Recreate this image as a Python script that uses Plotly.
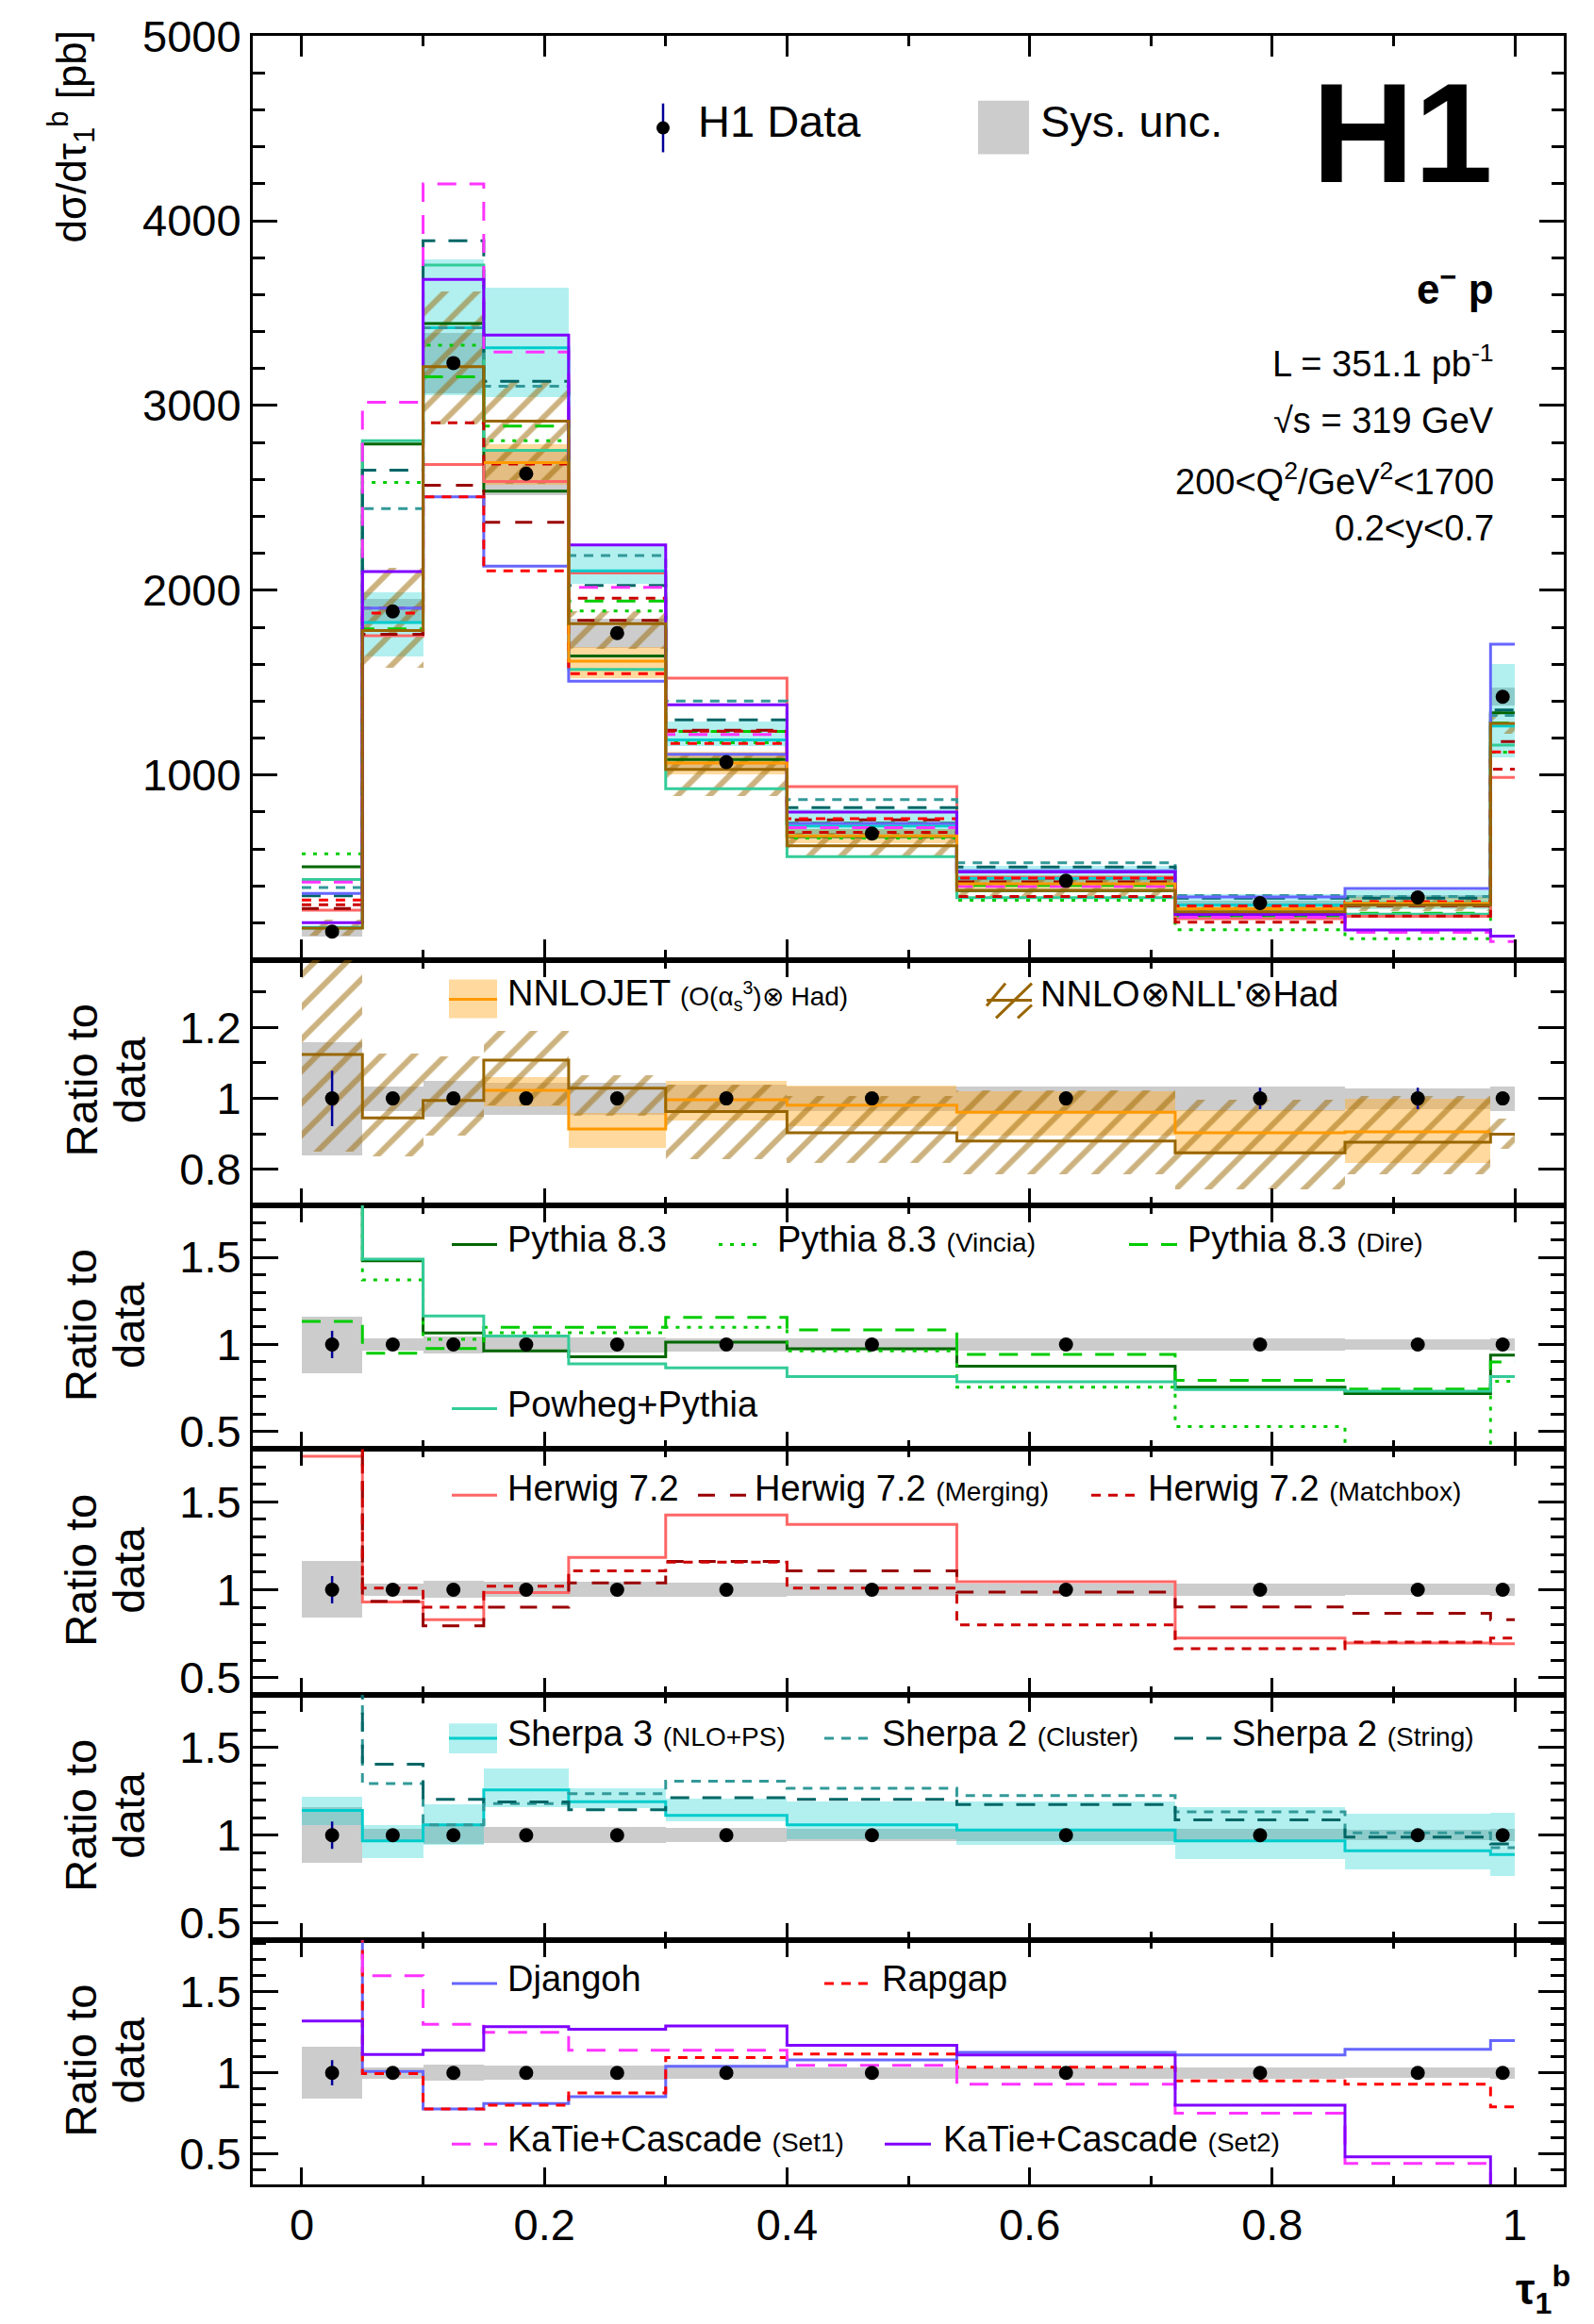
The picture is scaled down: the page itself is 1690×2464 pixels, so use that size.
import plotly.graph_objects as go
from plotly.subplots import make_subplots

# ---------------- data: H1 1-jettiness tau_1^b ----------------
edges = [0.0, 0.05, 0.10, 0.15, 0.22, 0.30, 0.40, 0.54, 0.72, 0.86, 0.98, 1.0]
xsec = [153, 1886, 3230, 2631, 1768, 1070, 684, 428, 307, 338, 1424]          # pb
stat_rel = [0.078, 0.012, 0.008, 0.008, 0.01, 0.01, 0.012, 0.02, 0.03, 0.03, 0.015]
sys_rel = [0.16, 0.035, 0.05, 0.045, 0.045, 0.04, 0.035, 0.035, 0.035, 0.03, 0.035]

# predictions, as ratio to data
nnlojet = [None, None, None, 1.023, 0.914, 0.996, 0.981, 0.961, 0.903, 0.906, None]
nnlojet_lo = [None, None, None, 0.978, 0.862, 0.938, 0.924, 0.897, 0.842, 0.820, None]
nnlojet_hi = [None, None, None, 1.060, 0.959, 1.051, 1.036, 1.022, 0.967, 1.000, None]
nnll = [1.124, 0.945, 0.994, 1.108, 1.029, 0.963, 0.903, 0.880, 0.847, 0.877, 0.899]
nnll_lo = [0.85, 0.838, 0.897, 0.98, 0.952, 0.83, 0.818, 0.787, 0.745, 0.787, 0.858]
nnll_hi = [1.43, 1.126, 1.12, 1.19, 1.066, 1.04, 1.007, 1.023, 0.998, 1.007, 0.945]

pythia = [3.29, 1.48, 1.066, 0.964, 0.93, 1.014, 0.975, 0.875, 0.755, 0.718, 0.939]
vincia = [3.75, 1.37, 1.03, 1.068, 1.068, 1.098, 0.964, 0.755, 0.53, 0.34, 0.789]
dire = [1.132, 0.95, 0.977, 1.098, 1.098, 1.155, 1.084, 0.943, 0.795, 0.745, 0.9]
powheg = [2.84, 1.49, 1.164, 1.048, 0.889, 0.866, 0.816, 0.786, 0.741, 0.732, 0.816]

herwig = [1.759, 0.93, 0.83, 0.984, 1.184, 1.425, 1.371, 1.046, 0.725, 0.696, 0.693]
herwig_merging = [1.82, 0.934, 0.795, 0.9, 1.039, 1.161, 1.107, 0.986, 0.902, 0.866, 0.83]
herwig_matchbox = [1.95, 1.009, 0.9, 1.02, 1.107, 1.157, 1.009, 0.8, 0.664, 0.702, 0.725]

sherpa3 = [1.141, 0.968, 1.059, 1.259, 1.191, 1.113, 1.059, 1.03, 0.968, 0.911, 0.889]
sherpa3_lo = [1.057, 0.87, 0.946, 1.157, 1.152, 1.08, 0.975, 0.946, 0.862, 0.804, 0.768]
sherpa3_hi = [1.22, 1.054, 1.173, 1.382, 1.268, 1.205, 1.193, 1.193, 1.157, 1.12, 1.125]
sherpa2_cluster = [2.56, 1.295, 1.059, 1.18, 1.2375, 1.309, 1.268, 1.227, 1.134, 1.014, 0.929]
sherpa2_string = [2.27, 1.405, 1.205, 1.19, 1.146, 1.214, 1.205, 1.175, 1.0875, 0.989, 0.95]

djangoh = [2.35, 1.009, 0.776, 0.81, 0.853, 1.04, 1.08, 1.127, 1.11, 1.145, 1.2]
rapgap = [2.12, 0.995, 0.776, 0.80, 0.876, 1.095, 1.117, 1.035, 0.95, 0.93, 0.79]
katie_set1 = [2.75, 1.60, 1.30, 1.25, 1.14, 1.14, 1.047, 0.93, 0.75, 0.44, 0.07]
katie_set2 = [1.32, 1.114, 1.14, 1.285, 1.27, 1.29, 1.17, 1.11, 0.80, 0.48, 0.09]

# ---------------- page geometry ----------------
W, H = 1690, 2464
ML, MR, MT, MB = 268, 32, 28, 148
PW, PH = W - ML - MR, H - MT - MB
FONT = "Liberation Sans, Arial, Helvetica, sans-serif"
TXT_DY = -5   # lift annotation boxes so the glyphs sit on the intended line


def px(xp):
    return (xp - ML) / PW


def py(yp):
    return (H - MB - yp) / PH


n = len(xsec)
centers = [(a + b) / 2 for a, b in zip(edges[:-1], edges[1:])]
widths = [b - a for a, b in zip(edges[:-1], edges[1:])]


def to_abs(ratio):
    return [None if r is None else r * d for r, d in zip(ratio, xsec)]


fig = make_subplots(rows=6, cols=1, shared_xaxes=True, vertical_spacing=0,
                    row_heights=[984, 261, 260, 262, 261, 260])


def add_step(row, vals, color, dash="solid", width=3):
    idx = [i for i, v in enumerate(vals) if v is not None]
    i0, i1 = idx[0], idx[-1]
    xs = edges[i0:i1 + 2]
    ys = list(vals[i0:i1 + 1]) + [vals[i1]]
    fig.add_trace(go.Scatter(x=xs, y=ys, mode="lines",
                             line=dict(color=color, width=width, dash=dash, shape="hv"),
                             showlegend=False, hoverinfo="skip"), row=row, col=1)


def add_band(row, lo, hi, fill, hatch=None):
    idx = [i for i in range(n) if lo[i] is not None]
    marker = dict(color=fill, line=dict(width=0))
    if hatch:
        marker = dict(color="rgba(0,0,0,0)", line=dict(width=0),
                      pattern=dict(shape="/", fgcolor=hatch, bgcolor="rgba(0,0,0,0)",
                                   size=24, solidity=0.25))
    fig.add_trace(go.Bar(x=[centers[i] for i in idx], width=[widths[i] for i in idx],
                         base=[lo[i] for i in idx], y=[hi[i] - lo[i] for i in idx],
                         marker=marker, showlegend=False, hoverinfo="skip"),
                  row=row, col=1)


GREY = "#cccccc"
C_NNLO, F_NNLO = "#ff9900", "rgba(255,170,40,0.45)"
C_NNLL = "#996600"
C_PY, C_VIN, C_DIRE, C_POW = "#006600", "#00cc00", "#00cc00", "#33cc99"
C_HW, C_MERG, C_MATCH = "#ff6666", "#990000", "#cc0000"
C_SH3, F_SH3, C_CLU, C_STR = "#00cccc", "rgba(0,204,204,0.3)", "#339999", "#006666"
C_DJ, C_RAP, C_K1, C_K2 = "#6666ff", "#ff0000", "#ff33ff", "#7f00ff"
D_DOT, D_LONG, D_SHORT, D_MERG = "4px,8px", "20px,14px", "10px,8px", "18px,16px"

models = {
    3: [(pythia, C_PY, "solid"), (vincia, C_VIN, D_DOT), (dire, C_DIRE, D_LONG),
        (powheg, C_POW, "solid")],
    4: [(herwig, C_HW, "solid"), (herwig_merging, C_MERG, D_MERG),
        (herwig_matchbox, C_MATCH, D_SHORT)],
    5: [(sherpa3, C_SH3, "solid"), (sherpa2_cluster, C_CLU, D_SHORT),
        (sherpa2_string, C_STR, D_LONG)],
    6: [(djangoh, C_DJ, "solid"), (rapgap, C_RAP, D_SHORT), (katie_set1, C_K1, D_LONG),
        (katie_set2, C_K2, "solid")],
}

# ---------------- top panel: cross section ----------------
add_band(1, [d * (1 - s) for d, s in zip(xsec, sys_rel)],
         [d * (1 + s) for d, s in zip(xsec, sys_rel)], GREY)
add_band(1, to_abs(nnlojet_lo), to_abs(nnlojet_hi), F_NNLO)
add_band(1, to_abs(sherpa3_lo), to_abs(sherpa3_hi), F_SH3)
add_band(1, to_abs(nnll_lo), to_abs(nnll_hi), None, hatch=C_NNLL)
for r in (3, 4, 5, 6):
    for vals, col, dash in models[r]:
        add_step(1, to_abs(vals), col, dash)
add_step(1, to_abs(nnlojet), C_NNLO)
add_step(1, to_abs(nnll), C_NNLL)
fig.add_trace(go.Scatter(x=centers, y=xsec, mode="markers",
                         marker=dict(color="black", size=15),
                         error_y=dict(type="data", array=[d * s for d, s in zip(xsec, stat_rel)],
                                      color="#000099", thickness=2.5, width=0),
                         showlegend=False, hoverinfo="skip"), row=1, col=1)

# ---------------- ratio panels ----------------
for r in range(2, 7):
    add_band(r, [1 - s for s in sys_rel], [1 + s for s in sys_rel], GREY)
    if r == 2:
        add_band(2, nnlojet_lo, nnlojet_hi, F_NNLO)
        add_band(2, nnll_lo, nnll_hi, None, hatch=C_NNLL)
        add_step(2, nnlojet, C_NNLO)
        add_step(2, nnll, C_NNLL)
    else:
        if r == 5:
            add_band(5, sherpa3_lo, sherpa3_hi, F_SH3)
        for vals, col, dash in models[r]:
            add_step(r, vals, col, dash)
    fig.add_trace(go.Scatter(x=centers, y=[1.0] * n, mode="markers",
                             marker=dict(color="black", size=15),
                             error_y=dict(type="data", array=stat_rel, color="#000099",
                                          thickness=2.5, width=0),
                             showlegend=False, hoverinfo="skip"), row=r, col=1)

# ---------------- axes ----------------
AX = dict(showline=True, linecolor="black", linewidth=3, mirror="allticks",
          ticks="inside", tickcolor="black", tickwidth=3, showgrid=False, zeroline=False,
          tickfont=dict(family=FONT, size=47, color="black"))
for r in range(1, 7):
    big = r == 1
    fig.update_xaxes(AX, range=[-0.0404, 1.0404], tickmode="linear", tick0=0, dtick=0.2,
                     ticklen=22 if big else 18,
                     minor=dict(ticks="inside", dtick=0.1, tick0=0, ticklen=11 if big else 9,
                                tickwidth=3, tickcolor="black", showgrid=False),
                     row=r, col=1)
fig.update_xaxes(showticklabels=True, row=6, col=1)

fig.update_yaxes(AX, range=[0, 5000.5], tickmode="linear", tick0=0, dtick=1000, ticklen=26,
                 labelalias={"0": " "},
                 minor=dict(ticks="inside", dtick=200, tick0=0, ticklen=13, tickwidth=3,
                            tickcolor="black", showgrid=False), row=1, col=1)
fig.update_yaxes(AX, range=[0.7, 1.39], tickmode="linear", tick0=0, dtick=0.2, ticklen=27,
                 minor=dict(ticks="inside", dtick=0.1, tick0=0, ticklen=14, tickwidth=3,
                            tickcolor="black", showgrid=False), row=2, col=1)
ratio_ranges = {3: [0.4, 1.8], 4: [0.4, 1.8], 5: [0.4, 1.8], 6: [0.31, 1.82]}
for r, rng in ratio_ranges.items():
    fig.update_yaxes(AX, range=rng, tickmode="linear", tick0=0, dtick=0.5, ticklen=27,
                     minor=dict(ticks="inside", dtick=0.1, tick0=0, ticklen=14, tickwidth=3,
                                tickcolor="black", showgrid=False), row=r, col=1)


# ---------------- text and legends ----------------
def text(xp, yp, s, size=38, anchor="left", angle=0, dy=TXT_DY):
    fig.add_annotation(x=px(xp), y=py(yp + dy), xref="paper", yref="paper", text=s,
                       showarrow=False, xanchor=anchor, yanchor="middle", textangle=angle,
                       font=dict(family=FONT, size=size, color="black"))


def hline(x0, x1, yp, color, dash="solid", width=3):
    fig.add_shape(type="line", xref="paper", yref="paper", x0=px(x0), x1=px(x1),
                  y0=py(yp), y1=py(yp), line=dict(color=color, width=width, dash=dash))


def box(x0, x1, y0, y1, fill):
    fig.add_shape(type="rect", xref="paper", yref="paper", x0=px(x0), x1=px(x1),
                  y0=py(y1), y1=py(y0), fillcolor=fill, line=dict(width=0))


small = "<span style='font-size:28px'>%s</span>"

# axis titles
text(76, 140, "dσ/dτ<sub>1</sub><sup>b</sup> [pb]", size=44, anchor="center", angle=-90)
for yc in (1140, 1401, 1662, 1923, 2184):
    text(86, yc, "Ratio to", size=47, anchor="center", angle=-90, dy=0)
    text(137, yc, "data", size=47, anchor="center", angle=-90, dy=0)
text(1636, 2428, "<b>τ<sub>1</sub><sup>b</sup></b>", size=46, anchor="center", dy=0)

# top panel legend and labels
fig.add_shape(type="line", xref="paper", yref="paper", x0=px(703), x1=px(703),
              y0=py(100), y1=py(152), line=dict(color="#000099", width=2.5))
fig.add_shape(type="circle", xref="paper", yref="paper", x0=px(696), x1=px(710),
              y0=py(133), y1=py(119), fillcolor="black", line=dict(width=0))
text(738, 124, "H1 Data", size=47)
box(1037, 1091, 97, 154, GREY)
text(1101, 124, "Sys. unc.", size=47)
text(1585, 136, "<b>H1</b>", size=150, anchor="right")
text(1586, 300, "<b>e<sup>−</sup> p</b>", size=44, anchor="right")
text(1586, 380, "L = 351.1 pb<sup>-1</sup>", anchor="right")
text(1586, 443, "√s = 319 GeV", anchor="right")
text(1586, 505, "200&lt;Q<sup>2</sup>/GeV<sup>2</sup>&lt;1700", anchor="right")
text(1586, 557, "0.2&lt;y&lt;0.7", anchor="right")

# ratio panel legends
box(476, 527, 1033, 1074, F_NNLO)
hline(476, 527, 1054, C_NNLO)
text(536, 1053, "NNLOJET " + small % "(O(α<sub>s</sub><sup>3</sup>)⊗ Had)")
hline(1046, 1094, 1055, C_NNLL)
for (a, b, c, d) in ((1046, 1061, 1066, 1037), (1056, 1074, 1094, 1037), (1079, 1074, 1094, 1060)):
    fig.add_shape(type="line", xref="paper", yref="paper", x0=px(a), y0=py(b), x1=px(c),
                  y1=py(d), line=dict(color=C_NNLL, width=3))
text(1101, 1053, "NNLO⊗NLL'⊗Had")

hline(479, 527, 1315, C_PY)
text(536, 1315, "Pythia 8.3")
hline(762, 810, 1315, C_VIN, D_DOT)
text(822, 1315, "Pythia 8.3 " + small % "(Vincia)")
hline(1197, 1248, 1315, C_DIRE, D_LONG)
text(1257, 1315, "Pythia 8.3 " + small % "(Dire)")
hline(479, 527, 1490, C_POW)
text(536, 1490, "Powheg+Pythia")

hline(479, 527, 1582, C_HW)
text(536, 1580, "Herwig 7.2")
hline(740, 791, 1582, C_MERG, D_MERG)
text(798, 1580, "Herwig 7.2 " + small % "(Merging)")
hline(1157, 1205, 1582, C_MATCH, D_SHORT)
text(1215, 1580, "Herwig 7.2 " + small % "(Matchbox)")

box(476, 527, 1825, 1857, F_SH3)
hline(476, 527, 1841, C_SH3)
text(536, 1841, "Sherpa 3 " + small % "(NLO+PS)")
hline(874, 924, 1841, C_CLU, D_SHORT)
text(933, 1841, "Sherpa 2 " + small % "(Cluster)")
hline(1245, 1295, 1841, C_STR, D_LONG)
text(1304, 1841, "Sherpa 2 " + small % "(String)")

hline(479, 527, 2102, C_DJ)
text(536, 2102, "Djangoh")
hline(874, 924, 2102, C_RAP, D_SHORT)
text(933, 2102, "Rapgap")
hline(479, 527, 2273, C_K1, D_LONG)
text(536, 2273, "KaTie+Cascade " + small % "(Set1)")
hline(938, 987, 2273, C_K2)
text(998, 2273, "KaTie+Cascade " + small % "(Set2)")

fig.update_layout(width=W, height=H, barmode="overlay", bargap=0,
                  margin=dict(l=ML, r=MR, t=MT, b=MB),
                  plot_bgcolor="white", paper_bgcolor="white", showlegend=False,
                  font=dict(family=FONT, color="black"))

fig.write_html("out.html")
